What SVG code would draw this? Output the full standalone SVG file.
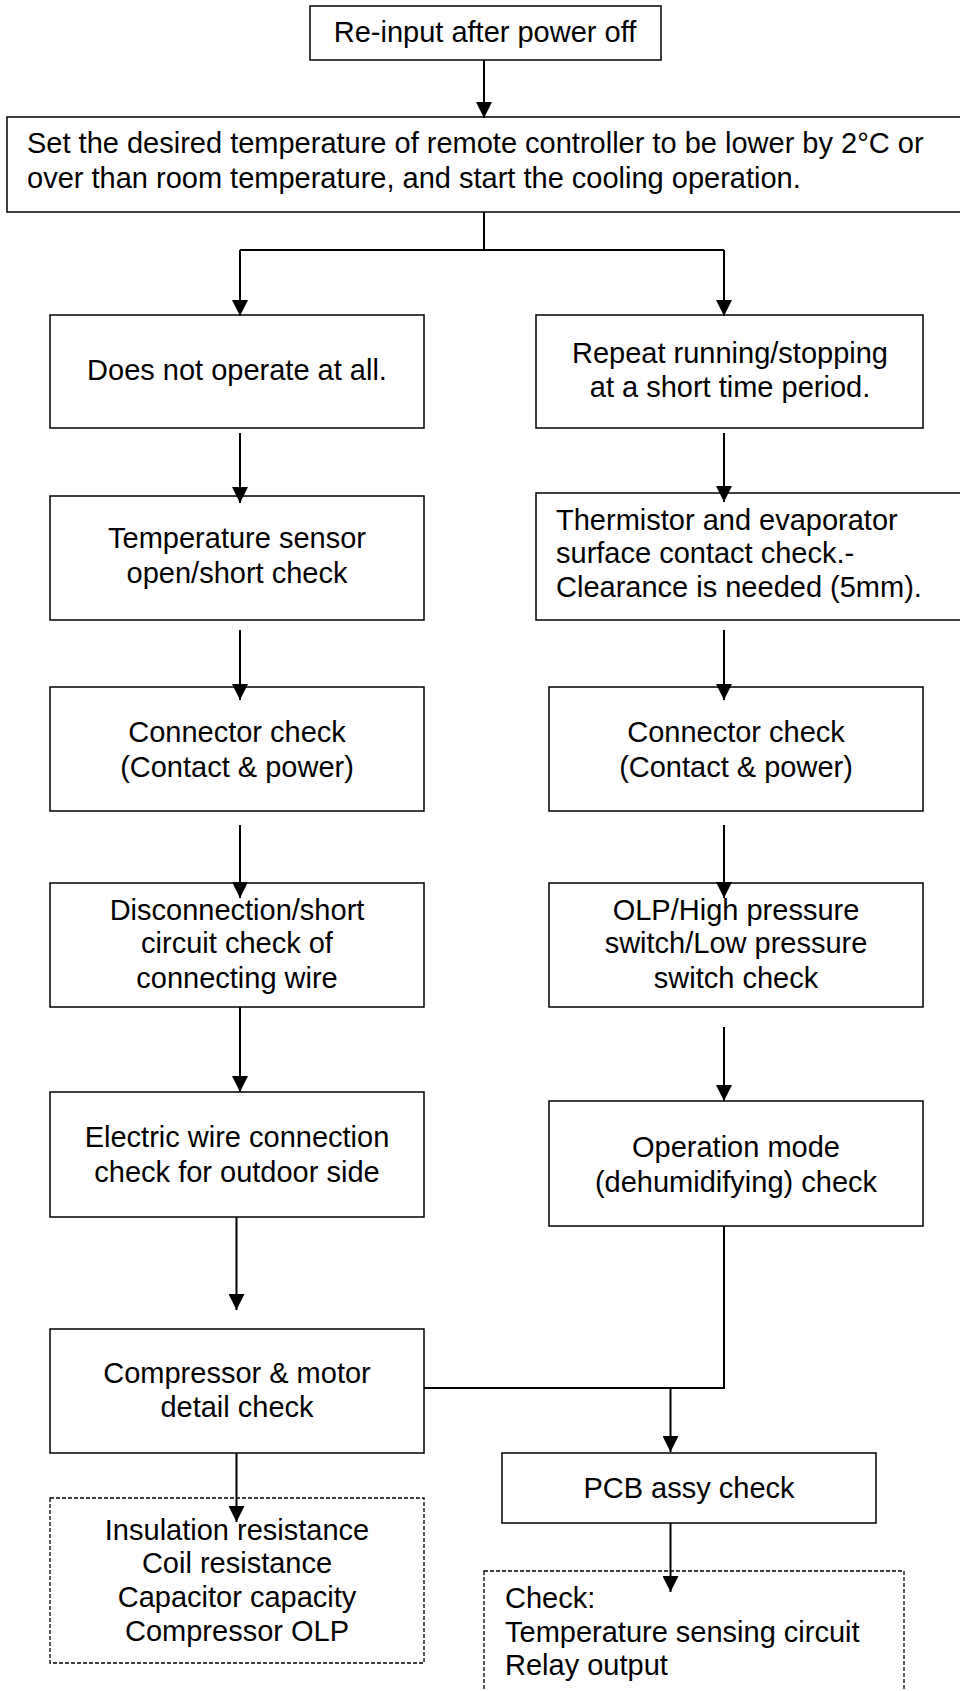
<svg xmlns="http://www.w3.org/2000/svg" width="960" height="1691" viewBox="0 0 960 1691">
<style>
.box{fill:#fff;stroke:#000;stroke-width:1.5}
.dash{fill:none;stroke:#000;stroke-width:1.3;stroke-dasharray:4,2}
.t{font-family:"Liberation Sans",Arial,sans-serif;font-size:29px;fill:#000}
.c{text-anchor:middle}
.ln{fill:none;stroke:#000;stroke-width:2}
</style>
<defs>
<marker id="ah" markerUnits="userSpaceOnUse" markerWidth="16" markerHeight="16" refX="16" refY="8" orient="auto">
<path d="M0,0 L16,8 L0,16 z" fill="#000"/>
</marker>
</defs>
<rect width="960" height="1691" fill="#fff"/>
<g id="n_reinput">
<rect class="box" x="310" y="6" width="351" height="54"/>
<text class="t c" x="485" y="42">Re-input after power off</text>
</g>
<g id="n_set">
<rect class="box" x="7" y="117" width="970" height="95"/>
<text class="t" x="27" y="153">Set the desired temperature of remote controller to be lower by 2°C or</text>
<text class="t" x="27" y="188">over than room temperature, and start the cooling operation.</text>
</g>
<g id="n_noop">
<rect class="box" x="50" y="315" width="374" height="113"/>
<text class="t c" x="237" y="380">Does not operate at all.</text>
</g>
<g id="n_repeat">
<rect class="box" x="536" y="315" width="387" height="113"/>
<text class="t c" x="730" y="363">Repeat running/stopping</text>
<text class="t c" x="730" y="397">at a short time period.</text>
</g>
<g id="n_tempsensor">
<rect class="box" x="50" y="496" width="374" height="124"/>
<text class="t c" x="237" y="548">Temperature sensor</text>
<text class="t c" x="237" y="583">open/short check</text>
</g>
<g id="n_thermistor">
<rect class="box" x="536" y="493" width="440" height="127"/>
<text class="t" x="556" y="530">Thermistor and evaporator</text>
<text class="t" x="556" y="563">surface contact check.-</text>
<text class="t" x="556" y="597">Clearance is needed (5mm).</text>
</g>
<g id="n_conn_l">
<rect class="box" x="50" y="687" width="374" height="124"/>
<text class="t c" x="237" y="742">Connector check</text>
<text class="t c" x="237" y="777">(Contact &amp; power)</text>
</g>
<g id="n_conn_r">
<rect class="box" x="549" y="687" width="374" height="124"/>
<text class="t c" x="736" y="742">Connector check</text>
<text class="t c" x="736" y="777">(Contact &amp; power)</text>
</g>
<g id="n_disconn">
<rect class="box" x="50" y="883" width="374" height="124"/>
<text class="t c" x="237" y="920">Disconnection/short</text>
<text class="t c" x="237" y="953">circuit check of</text>
<text class="t c" x="237" y="988">connecting wire</text>
</g>
<g id="n_olp">
<rect class="box" x="549" y="883" width="374" height="124"/>
<text class="t c" x="736" y="920">OLP/High pressure</text>
<text class="t c" x="736" y="953">switch/Low pressure</text>
<text class="t c" x="736" y="988">switch check</text>
</g>
<g id="n_electric">
<rect class="box" x="50" y="1092" width="374" height="125"/>
<text class="t c" x="237" y="1147">Electric wire connection</text>
<text class="t c" x="237" y="1182">check for outdoor side</text>
</g>
<g id="n_opmode">
<rect class="box" x="549" y="1101" width="374" height="125"/>
<text class="t c" x="736" y="1157">Operation mode</text>
<text class="t c" x="736" y="1192">(dehumidifying) check</text>
</g>
<g id="n_compressor">
<rect class="box" x="50" y="1329" width="374" height="124"/>
<text class="t c" x="237" y="1383">Compressor &amp; motor</text>
<text class="t c" x="237" y="1417">detail check</text>
</g>
<g id="n_pcb">
<rect class="box" x="502" y="1453" width="374" height="70"/>
<text class="t c" x="689" y="1498">PCB assy check</text>
</g>
<g id="n_comp_detail">
<rect class="dash" x="50" y="1498" width="374" height="165"/>
<text class="t c" x="237" y="1540">Insulation resistance</text>
<text class="t c" x="237" y="1573">Coil resistance</text>
<text class="t c" x="237" y="1607">Capacitor capacity</text>
<text class="t c" x="237" y="1641">Compressor OLP</text>
</g>
<g id="n_pcb_detail">
<rect class="dash" x="484" y="1571" width="420" height="140"/>
<text class="t" x="505" y="1608">Check:</text>
<text class="t" x="505" y="1642">Temperature sensing circuit</text>
<text class="t" x="505" y="1675">Relay output</text>
</g>
<g id="connectors">
<line class="ln" x1="484" y1="60" x2="484" y2="118" marker-end="url(#ah)"/>
<polyline class="ln" points="484,212 484,250"/>
<polyline class="ln" points="240,250 724,250"/>
<line class="ln" x1="240" y1="250" x2="240" y2="316" marker-end="url(#ah)"/>
<line class="ln" x1="724" y1="250" x2="724" y2="316" marker-end="url(#ah)"/>
<line class="ln" x1="240" y1="433" x2="240" y2="503" marker-end="url(#ah)"/>
<line class="ln" x1="724" y1="433" x2="724" y2="502" marker-end="url(#ah)"/>
<line class="ln" x1="240" y1="630" x2="240" y2="700" marker-end="url(#ah)"/>
<line class="ln" x1="724" y1="630" x2="724" y2="700" marker-end="url(#ah)"/>
<line class="ln" x1="240" y1="825" x2="240" y2="898" marker-end="url(#ah)"/>
<line class="ln" x1="724" y1="825" x2="724" y2="898" marker-end="url(#ah)"/>
<line class="ln" x1="240" y1="1007" x2="240" y2="1092" marker-end="url(#ah)"/>
<line class="ln" x1="724" y1="1027" x2="724" y2="1101" marker-end="url(#ah)"/>
<line class="ln" x1="236.5" y1="1217" x2="236.5" y2="1310" marker-end="url(#ah)"/>
<polyline class="ln" points="724,1226 724,1388 424,1388"/>
<line class="ln" x1="670.5" y1="1388" x2="670.5" y2="1452" marker-end="url(#ah)"/>
<line class="ln" x1="670.5" y1="1523" x2="670.5" y2="1592" marker-end="url(#ah)"/>
<line class="ln" x1="236.5" y1="1453" x2="236.5" y2="1522" marker-end="url(#ah)"/>
</g>
</svg>
